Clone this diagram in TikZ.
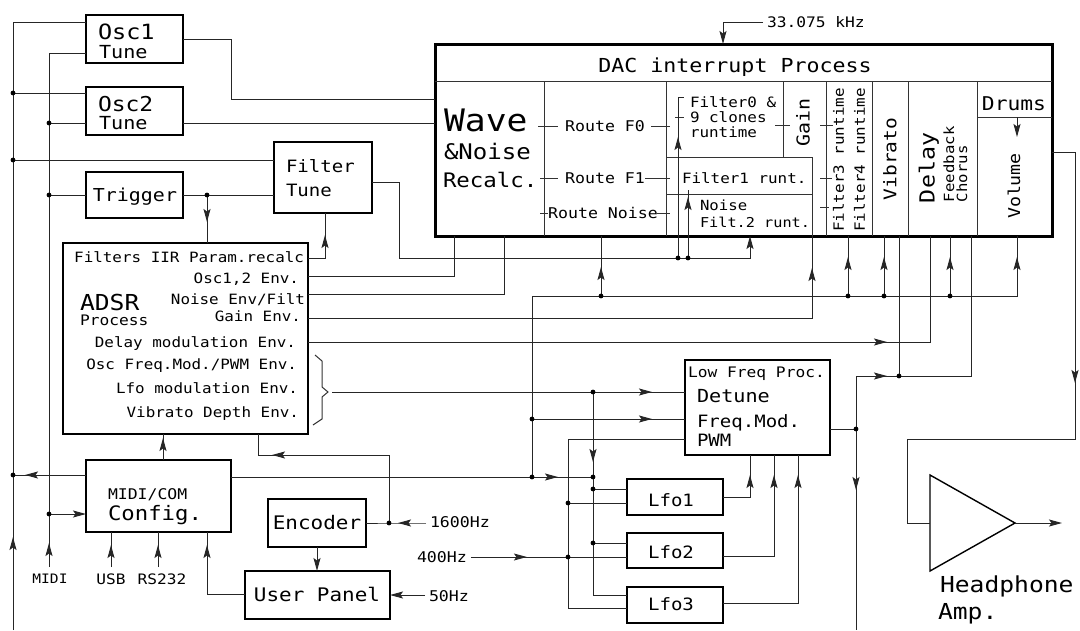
\documentclass[tikz,border=0pt]{standalone}
\usepackage{fontspec}
\newfontfamily\cad[FakeStretch=1.12]{DejaVu Sans Mono}
\usetikzlibrary{arrows.meta,decorations.markings}
\newcommand{\fz}[1]{\fontsize{#1}{#1}\selectfont}
\begin{document}
\begin{tikzpicture}[x=1pt,y=-1pt,
  box/.style={draw,line width=2.4pt,inner sep=0pt,outer sep=0pt,rectangle},
  wire/.style={line width=1pt,draw=black!85},
  thinl/.style={line width=1pt,draw=black!80},
  txt/.style={inner sep=0pt,outer sep=0pt,font=\cad},
  marr/.style={postaction={decorate},decoration={markings,mark=at position #1 with {\arrow{Stealth[length=13pt,width=7pt,inset=2.5pt]}}}},
  arr/.style={-{Stealth[length=13pt,width=7pt,inset=2.5pt]}},
]
\useasboundingbox (0,0) rectangle (1080,630);

% ---------- boxes
\node[box,minimum width=97pt,minimum height=48pt] (osc1) at (134.5,39) {};
\node[box,minimum width=97pt,minimum height=48pt] (osc2) at (134.5,111) {};
\node[box,minimum width=97pt,minimum height=46pt] (trig) at (134.5,195) {};
\node[box,minimum width=98pt,minimum height=71pt] (ftune) at (323,177.5) {};
\node[box,line width=3pt,minimum width=617pt,minimum height=192pt] (dac) at (743.5,140) {};
\node[box,minimum width=245pt,minimum height=191pt] (adsr) at (185.5,338.5) {};
\node[box,minimum width=145pt,minimum height=72pt] (midi) at (158.5,496) {};
\node[box,minimum width=98pt,minimum height=48pt] (enc) at (317,523) {};
\node[box,minimum width=145pt,minimum height=48pt] (upanel) at (317.5,595) {};
\node[box,minimum width=145pt,minimum height=95pt] (lfp) at (757.5,407.5) {};
\node[box,minimum width=96pt,minimum height=36pt] (lfo1) at (675,497) {};
\node[box,minimum width=96pt,minimum height=35pt] (lfo2) at (675,550.5) {};
\node[box,minimum width=96pt,minimum height=36pt] (lfo3) at (675,605) {};
\draw[line width=1.4pt] (930,475) -- (1015,523) -- (930,571) -- cycle;
\coordinate (ampin) at (930,523);
\coordinate (ampout) at (1015,523);

% ---------- DAC inner grid
\draw[thinl] (435,81) -- (1052,81);
\draw[thinl] (544,81) -- (544,236);
\draw[thinl] (666,81) -- (666,236);
\draw[thinl] (666,157) -- (812,157);
\draw[thinl] (783,81) -- (783,157);
\draw[thinl] (812,157) -- (812,236);
\draw[thinl] (666,194) -- (812,194);
\draw[thinl] (826,81) -- (826,236);
\draw[thinl] (872,81) -- (872,236);
\draw[thinl] (908,81) -- (908,236);
\draw[thinl] (977,81) -- (977,236);
\draw[thinl] (977,117) -- (1052,117);
% small ticks
\draw[thinl] (538,126) -- (558,126);  \draw[thinl] (651,126) -- (670,126);
\draw[thinl] (540,178) -- (558,178);  \draw[thinl] (645,178) -- (670,178);
\draw[thinl] (540,213) -- (548,213);  \draw[thinl] (657,213) -- (670,213);
\draw[thinl] (775,125) -- (790,125);  \draw[thinl] (820,125) -- (833,125);
\draw[thinl] (820,178) -- (832,178);  \draw[thinl] (820,207) -- (829,207);
\draw[thinl] (675,117) -- (684,117);

% ---------- texts
\node[txt,anchor=base west] at (98,39.7) {\fz{21}Osc1};
\node[txt,anchor=base west] at (99,58.6) {\fz{18}Tune};
\node[txt,anchor=base west] at (98,111) {\fz{20.5}Osc2};
\node[txt,anchor=base west] at (99,129) {\fz{18}Tune};
\node[txt,anchor=base] at (135,201.5) {\fz{17.8}Trigger};
\node[txt,anchor=base west] at (286,172.2) {\fz{17}Filter};
\node[txt,anchor=base west] at (286,196.2) {\fz{17}Tune};
\node[txt,anchor=base west] at (444,131.3) {\fz{31}Wave};
\node[txt,anchor=base west] at (444,159.8) {\fz{21.5}\&Noise};
\node[txt,anchor=base west] at (443,187.3) {\fz{20}Recalc.};
\node[txt,anchor=base] at (735,72) {\fz{19.3}DAC interrupt Process};
\node[txt,anchor=base] at (605,131.4) {\fz{14.8}Route F0};
\node[txt,anchor=base] at (605,183.4) {\fz{14.8}Route F1};
\node[txt,anchor=base] at (603,218.4) {\fz{14.8}Route Noise};
\node[txt,anchor=base west] at (690,107.2) {\fz{14.2}Filter0 \&};
\node[txt,anchor=base west] at (690,122.2) {\fz{14.2}9 clones};
\node[txt,anchor=base west] at (690,137) {\fz{14.2}runtime};
\node[txt,anchor=base west] at (682,183.2) {\fz{14.2}Filter1 runt.};
\node[txt,anchor=base west] at (700,210.1) {\fz{14}Noise};
\node[txt,anchor=base west] at (700,227) {\fz{13.6}Filt.2 runt.};
\node[txt,rotate=90] at (803,122) {\fz{17.8}Gain};
\node[txt,rotate=90,align=center,font=\cad\fontsize{14.2}{21}\selectfont] at (849,160) {Filter3 runtime\\Filter4 runtime};
\node[txt,rotate=90] at (890,159) {\fz{17.4}Vibrato};
\node[txt,rotate=90,anchor=base west] at (934.6,203) {\fz{20.8}Delay};
\node[txt,rotate=90,anchor=base west] at (954,202) {\fz{14}Feedback};
\node[txt,rotate=90,anchor=base west] at (967,202) {\fz{14}Chorus};
\node[txt,anchor=base] at (1014,110) {\fz{19}Drums};
\node[txt,rotate=90] (vol) at (1014,186) {\fz{16.3}Volume};

\node[txt,anchor=base east] at (304,262.2) {\fz{14.2}Filters IIR Param.recalc};
\node[txt,anchor=base east] at (299,283.2) {\fz{14.2}Osc1,2 Env.};
\node[txt,anchor=base east] at (305,304.2) {\fz{14.2}Noise Env/Filt};
\node[txt,anchor=base east] at (301,321.2) {\fz{14.2}Gain Env.};
\node[txt,anchor=base east] at (296,347.2) {\fz{14.2}Delay modulation Env.};
\node[txt,anchor=base east] at (297,369.2) {\fz{14.2}Osc Freq.Mod./PWM Env.};
\node[txt,anchor=base east] at (298,393.2) {\fz{14.2}Lfo modulation Env.};
\node[txt,anchor=base east] at (299,417.2) {\fz{14.2}Vibrato Depth Env.};
\node[txt,anchor=base west] at (80,310) {\fz{22}ADSR};
\node[txt,anchor=base west] at (80,325.3) {\fz{14.5}Process};

\node[txt,anchor=base west] at (688,377.3) {\fz{14.5}Low Freq Proc.};
\node[txt,anchor=base west] at (697,402.6) {\fz{18}Detune};
\node[txt,anchor=base west] at (697,427.2) {\fz{17}Freq.Mod.};
\node[txt,anchor=base west] at (697,446.2) {\fz{17}PWM};
\node[txt,anchor=base] at (671,506.2) {\fz{17}Lfo1};
\node[txt,anchor=base] at (671,558.7) {\fz{17}Lfo2};
\node[txt,anchor=base] at (671,610.7) {\fz{17}Lfo3};

\node[txt,anchor=base west] at (108,499.4) {\fz{14.7}MIDI/COM};
\node[txt,anchor=base west] at (108,520.3) {\fz{19.9}Config.};
\node[txt,anchor=base] at (50,583.7) {\fz{13}MIDI};
\node[txt,anchor=base] at (111,584.3) {\fz{14.4}USB};
\node[txt,anchor=base] at (162,584.3) {\fz{14.4}RS232};
\node[txt,anchor=base] at (317,529.3) {\fz{18.7}Encoder};
\node[txt,anchor=base] at (317,601.3) {\fz{18.7}User Panel};
\node[txt,anchor=base west,inner xsep=4pt] (hz1600) at (426,527.9) {\fz{14.8}1600Hz};
\node[txt,anchor=base west,inner xsep=4pt] (hz400) at (413,562.9) {\fz{14.8}400Hz};
\node[txt,anchor=base west,inner xsep=4pt] (hz50) at (425,601.4) {\fz{14.8}50Hz};
\node[txt,anchor=base west,inner xsep=4pt] (khz) at (763,27.3) {\fz{14.5}33.075 kHz};
\node[txt,anchor=base west] at (940,592.5) {\fz{22}Headphone};
\node[txt,anchor=base west] at (938,619) {\fz{22}Amp.};

% ---------- coordinates
\coordinate (Lbot) at (13,630);  \coordinate (Ltop) at (13,22);
\coordinate (L1) at (13,93);     \coordinate (L2) at (13,160);   \coordinate (L3) at (13,475);
\coordinate (Mbot) at (49,567);  \coordinate (Mtop) at (49,53);
\coordinate (M1) at (49,123);    \coordinate (M2) at (49,195);   \coordinate (M3) at (49,514);
\coordinate (o1a) at (231,39);   \coordinate (o1b) at (231,99);  \coordinate (o2) at (300,123);
\coordinate (tj) at (207,195);
\coordinate (f1) at (399,182);   \coordinate (f2) at (399,258);  \coordinate (f3) at (750,258);
\coordinate (g1) at (678,258);   \coordinate (g1t) at (678,97);  \coordinate (g1e) at (684,97);
\coordinate (g2) at (688,258);   \coordinate (g2t) at (688,190);
\coordinate (a1) at (325,258);   \coordinate (a2) at (454,276);  \coordinate (a3) at (504,294);
\coordinate (a4) at (812,318);   \coordinate (a5) at (930,342);
\coordinate (br) at (332,392);
\coordinate (m1) at (532,477);   \coordinate (m2) at (593,477);  \coordinate (m3) at (532,419);
\coordinate (b0) at (532,296);   \coordinate (b1) at (1017,296);
\coordinate (bt1) at (601,296);  \coordinate (bt2) at (848,296); \coordinate (bt3) at (884,296); \coordinate (bt4) at (950,296);
\coordinate (n0) at (593,392);   \coordinate (n1) at (593,489);  \coordinate (n2) at (593,543); \coordinate (n3) at (593,595);
\coordinate (p0) at (568,439);   \coordinate (p1) at (568,503);  \coordinate (p2) at (568,557); \coordinate (p3) at (568,608);
\coordinate (q1) at (750,497);   \coordinate (q2) at (774,556);  \coordinate (q3) at (798,603);
\coordinate (r0) at (856,429);   \coordinate (rtop) at (856,376); \coordinate (rbot) at (856,630);
\coordinate (r1) at (899,376);   \coordinate (r2) at (971,376);
\coordinate (v1) at (1075,152);  \coordinate (v2) at (1075,439); \coordinate (v3) at (907,439); \coordinate (v4) at (907,523);
\coordinate (ampend) at (1062,523);
\coordinate (k1) at (723,22);
\coordinate (e1) at (389,523);   \coordinate (e2) at (389,455);  \coordinate (e3) at (258,455);
\coordinate (u1) at (207,594);
\coordinate (usb) at (111,567);  \coordinate (rs) at (158,567);
\coordinate (mup) at (163,460);
\coordinate (dv1) at (1017,117); \coordinate (dv2) at (1017,137);

% ---------- connectors
\draw[wire,marr=93pt] (Lbot) -- (Ltop) -- (osc1.west |- Ltop);
\draw[wire] (L1) -- (osc2.west |- L1);
\draw[wire] (L2) -- (ftune.west |- L2);
\draw[wire,marr=61pt] (midi.west |- L3) -- (L3);
\draw[wire,marr=24pt] (Mbot) -- (Mtop) -- (osc1.west |- Mtop);
\draw[wire] (M1) -- (osc2.west |- M1);
\draw[wire] (M2) -- (trig.west |- M2);
\draw[wire,arr] (M3) -- (midi.west |- M3);
\draw[wire] (osc1.east |- o1a) -- (o1a) -- (o1b) -- (dac.west |- o1b);
\draw[wire] (osc2.east |- o2) -- (dac.west |- o2);
\draw[wire] (trig.east) -- (ftune.west |- trig.east);
\draw[wire,marr=27pt] (tj) -- (adsr.north -| tj);
\draw[wire,arr] (ftune.east |- f1) -- (f1) -- (f2) -- (f3) -- (dac.south -| f3);
\draw[wire,marr=121pt] (g1) -- (g1t) -- (g1e);
\draw[wire,marr=61pt] (g2) -- (g2t);
\draw[wire,marr=40pt] (adsr.east |- a1) -- (a1) -- (ftune.south -| a1);
\draw[wire] (adsr.east |- a2) -- (a2) -- (dac.south -| a2);
\draw[wire] (adsr.east |- a3) -- (a3) -- (dac.south -| a3);
\draw[wire,marr=-32pt] (adsr.east |- a4) -- (a4) -- (dac.south -| a4);
\draw[wire,marr=579pt] (adsr.east |- a5) -- (a5) -- (dac.south -| a5);
% brace
\draw[thinl] (315,355) -- (322,361) -- (322,387) -- (328,392) -- (322,397) -- (322,419) -- (313,425);
\draw[wire,marr=320pt] (br) -- (lfp.west |- br);
% midi bus
\draw[wire,marr=327pt] (midi.east |- m1) -- (m2);
\draw[wire,marr=-21pt] (m1) -- (b0) -- (b1) -- (dac.south -| b1);
\draw[wire,marr=120pt] (m3) -- (lfp.west |- m3);
\draw[wire,marr=-31pt] (bt1) -- (dac.south -| bt1);
\draw[wire,marr=-21pt] (bt2) -- (dac.south -| bt2);
\draw[wire,marr=-21pt] (bt3) -- (dac.south -| bt3);
\draw[wire,marr=-21pt] (bt4) -- (dac.south -| bt4);
% lfo feeds
\draw[wire,marr=70pt] (n0) -- (n3) -- (lfo3.west |- n3);
\draw[wire] (n1) -- (lfo1.west |- n1);
\draw[wire] (n2) -- (lfo2.west |- n2);
\draw[wire] (lfp.west |- p0) -- (p0) -- (p3) -- (lfo3.west |- p3);
\draw[wire] (p1) -- (lfo1.west |- p1);
\draw[wire] (p2) -- (lfo2.west |- p2);
\draw[wire,marr=56pt] (hz400.east |- p2) -- (p2);
\draw[wire,marr=-20pt] (lfo1.east |- q1) -- (q1) -- (lfp.south -| q1);
\draw[wire,marr=-20pt] (lfo2.east |- q2) -- (q2) -- (lfp.south -| q2);
\draw[wire,marr=-20pt] (lfo3.east |- q3) -- (q3) -- (lfp.south -| q3);
% lfp out
\draw[wire] (lfp.east |- r0) -- (r0);
\draw[wire,marr=114pt] (rtop) -- (rbot);
\draw[wire,marr=31pt] (rtop) -- (r2) -- (dac.south -| r2);
\draw[wire] (dac.south -| r1) -- (r1);
% volume / amp
\draw[wire,marr=254pt] (dac.east |- v1) -- (v1) -- (v2) -- (v3) -- (v4) -- (ampin);
\draw[wire,arr] (ampout) -- (ampend);
\draw[wire,arr] (dv1) -- (dv2);
% clock
\draw[wire,arr] (khz.west |- k1) -- (k1) -- (dac.north -| k1);
\draw[wire,marr=28pt] (hz1600.west |- e1) -- (e1) -- (enc.east |- e1);
\draw[wire,marr=185pt] (e1) -- (e2) -- (e3) -- (adsr.south -| e3);
\draw[wire,arr] (enc.south) -- (upanel.north -| enc.south);
\draw[wire,arr] (hz50.west |- upanel.east) -- (upanel.east);
\draw[wire,marr=-13pt] (upanel.west |- u1) -- (u1) -- (midi.south -| u1);
\draw[wire,marr=-4pt] (mup) -- (adsr.south -| mup);
\draw[wire,marr=-13pt] (usb) -- (midi.south -| usb);
\draw[wire,marr=-13pt] (rs) -- (midi.south -| rs);

% ---------- junction dots
\foreach \x/\y in {13/93,13/160,13/475,49/123,49/195,49/514,207/195,678/258,688/258,
  593/392,532/477,593/477,532/419,601/296,848/296,884/296,950/296,593/489,593/543,
  568/503,568/557,856/429,899/376,389/523}
  \fill (\x,\y) circle (2.4pt);
\end{tikzpicture}
\end{document}
